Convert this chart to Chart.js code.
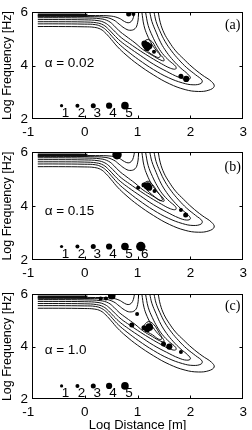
<!DOCTYPE html>
<html>
<head>
<meta charset="utf-8">
<script src="https://cdn.jsdelivr.net/npm/chart.js@4"></script>
<style>
  html, body { margin: 0; padding: 0; background: #fff; overflow: hidden; }
  body { width: 252px; height: 430px; position: relative; }
  canvas { position: absolute; left: 0; }
</style>
</head>
<body>
<canvas id="panelA" width="252" height="143" style="top:0px"></canvas>
<canvas id="panelB" width="252" height="143" style="top:140px"></canvas>
<canvas id="panelC" width="252" height="151" style="top:282px"></canvas>
<script>
const xTicks = [-1, 0, 1, 2, 3];
const yTicks = [2, 4, 6];

// contour lines shared by the three panels: [log distance, log frequency]
const contour1 = [[-0.89,5.46],[-0.5,5.46],[0.0,5.45],[0.18,5.43],[0.3,5.36],[0.4,5.2],[0.5,4.98],[0.62,4.7],[0.78,4.4],[1.0,4.05],[1.3,3.65],[1.6,3.32],[1.9,3.1],[2.15,3.03],[2.35,3.08],[2.45,3.22],[2.4,3.4],[2.22,3.65],[2.03,3.95],[1.87,4.25],[1.72,4.55],[1.6,4.88],[1.5,5.22],[1.43,5.6],[1.39,6.0]];
const contour2 = [[-0.89,5.56],[-0.5,5.56],[0.0,5.55],[0.2,5.53],[0.32,5.45],[0.42,5.3],[0.52,5.08],[0.64,4.82],[0.8,4.55],[1.02,4.22],[1.3,3.85],[1.58,3.55],[1.85,3.35],[2.05,3.28],[2.2,3.33],[2.22,3.45],[2.1,3.65],[1.93,3.92],[1.78,4.22],[1.64,4.55],[1.52,4.9],[1.42,5.3],[1.35,5.65],[1.31,6.0]];
const contour3 = [[-0.89,5.64],[-0.5,5.64],[0.0,5.63],[0.22,5.6],[0.35,5.52],[0.45,5.36],[0.55,5.15],[0.67,4.92],[0.83,4.68],[1.05,4.38],[1.3,4.05],[1.55,3.78],[1.78,3.56],[1.93,3.48],[2.0,3.53],[1.95,3.68],[1.82,3.9],[1.68,4.18],[1.55,4.5],[1.44,4.85],[1.35,5.25],[1.27,5.65],[1.23,6.0]];
const contour4 = [[-0.89,5.72],[-0.5,5.72],[0.0,5.71],[0.25,5.68],[0.38,5.6],[0.48,5.45],[0.58,5.25],[0.7,5.03],[0.85,4.82],[1.05,4.55],[1.25,4.3],[1.45,4.07],[1.62,3.9],[1.72,3.87],[1.72,3.97],[1.6,4.18],[1.47,4.45],[1.37,4.75],[1.28,5.1],[1.2,5.5],[1.15,6.0]];
const contour5 = [[-0.89,5.79],[-0.5,5.79],[0.0,5.78],[0.3,5.75],[0.45,5.66],[0.55,5.5],[0.65,5.3],[0.78,5.1],[0.95,4.85],[1.1,4.6],[1.28,4.38],[1.42,4.22],[1.5,4.18],[1.48,4.3],[1.38,4.5],[1.27,4.8],[1.18,5.15],[1.12,5.5],[1.08,6.0]];
const contour6 = [[-0.89,5.84],[-0.4,5.84],[0.1,5.83],[0.4,5.8],[0.55,5.7],[0.65,5.55],[0.75,5.4],[0.85,5.32],[0.95,5.38],[1.0,5.6],[1.02,6.0]];
const contour7 = [[-0.89,5.88],[0.2,5.87],[0.5,5.85],[0.65,5.77],[0.75,5.65],[0.82,5.6],[0.88,5.65],[0.92,5.8],[0.94,6.0]];
const ridgeBand = [[-0.89,5.89],[-0.3,5.89],[0.05,5.885]];

// innermost closed contour of each panel
const loopA = [[1.1,4.85],[1.18,4.97],[1.27,4.9],[1.35,4.65],[1.43,4.38],[1.4,4.3],[1.3,4.38],[1.18,4.55],[1.1,4.72],[1.1,4.85]];
const loopB = [[1.12,4.85],[1.2,4.92],[1.28,4.8],[1.37,4.55],[1.47,4.25],[1.43,4.2],[1.32,4.35],[1.2,4.55],[1.12,4.72],[1.12,4.85]];
const loopC = [[1.1,4.75],[1.2,4.95],[1.3,4.85],[1.4,4.55],[1.46,4.3],[1.4,4.28],[1.28,4.45],[1.15,4.6],[1.1,4.75]];

// observed sources: position and size class
const dotsAx = [0.83, 0.92, 1.13, 1.17, 1.22, 1.18, 1.31, 1.82, 1.92];
const dotsAy = [5.93, 5.93, 4.82, 4.75, 4.72, 4.66, 4.52, 3.6, 3.5];
const dotsAsize = [3, 2, 4, 5, 4, 4, 2, 3, 4];
const dotsBx = [0.61, 1.01, 1.12, 1.19, 1.22, 1.32, 1.82, 1.91];
const dotsBy = [5.9, 4.68, 4.78, 4.74, 4.68, 4.56, 3.85, 3.67];
const dotsBsize = [6, 2, 3, 5, 4, 2, 2, 3];
const dotsCx = [0.3, 0.4, 0.51, 0.99, 0.89, 1.12, 1.18, 1.22, 1.49, 1.6, 1.82];
const dotsCy = [5.83, 5.83, 5.94, 5.24, 4.82, 4.72, 4.66, 4.74, 4.1, 4.0, 3.79];
const dotsCsize = [2, 2, 5, 2, 3, 3, 4, 5, 3, 4, 2];

// size key along the bottom
const keyX = [-0.44, -0.14, 0.16, 0.46, 0.76, 1.06];
const keyY = 2.5;
const keyLabels = ['1', '2', '3', '4', '5', '6'];

const sizeRadius = [0, 1.6, 2.0, 2.5, 3.1, 3.8, 4.7];
const sansFont = '"Liberation Sans", Arial, sans-serif';

const framePlugin = {
  id: 'frame',
  afterDatasetsDraw(chart, args, opts) {
    const { ctx, chartArea: a, scales: { x, y } } = chart;
    ctx.save();
    ctx.strokeStyle = '#000';
    ctx.lineWidth = 1;
    const l = Math.round(a.left) + 0.5, r = Math.round(a.right) - 0.5;
    const t = Math.round(a.top) + 0.5, b = Math.round(a.bottom) - 0.5;
    ctx.strokeRect(l, t, r - l, b - t);
    ctx.beginPath();
    xTicks.slice(1, -1).forEach(v => {
      const px = Math.round(x.getPixelForValue(v)) + 0.5;
      ctx.moveTo(px, b); ctx.lineTo(px, b - 3);
      ctx.moveTo(px, t); ctx.lineTo(px, t + 3);
    });
    yTicks.slice(1, -1).forEach(v => {
      const py = Math.round(y.getPixelForValue(v)) + 0.5;
      ctx.moveTo(l, py); ctx.lineTo(l + 3, py);
      ctx.moveTo(r, py); ctx.lineTo(r - 3, py);
    });
    ctx.stroke();

    ctx.fillStyle = '#000';
    ctx.textBaseline = 'middle';
    ctx.font = '13.5px ' + sansFont;
    ctx.textAlign = 'left';
    ctx.fillText(opts.alpha, x.getPixelForValue(-0.76), y.getPixelForValue(opts.alphaY));
    ctx.textAlign = 'center';
    for (let i = 0; i < opts.keyCount; i++) {
      ctx.fillText(keyLabels[i], x.getPixelForValue(keyX[i]) + 4, y.getPixelForValue(2.2));
    }
    ctx.font = '14px "Liberation Serif", "Times New Roman", serif';
    ctx.fillText(opts.tag, x.getPixelForValue(2.8), y.getPixelForValue(opts.tagY));
    ctx.restore();
  }
};

function contourSet(list) {
  return list.map(pts => ({
    data: pts.map(p => ({ x: p[0], y: p[1] })),
    showLine: true,
    borderColor: '#111',
    borderWidth: pts === ridgeBand ? 3 : 1,
    pointRadius: 0,
    tension: 0.4,
    fill: false,
    order: 2
  }));
}

function dotSet(xs, ys, sizes) {
  return {
    data: xs.map((v, i) => ({ x: v, y: ys[i] })),
    pointRadius: sizes.map(s => sizeRadius[s]),
    backgroundColor: '#000',
    borderWidth: 0,
    showLine: false,
    order: 0
  };
}

function makePanel(id, p) {
  const keyCount = p.keyCount;
  const datasets = contourSet([contour1, contour2, contour3, contour4, contour5, contour6, contour7, ridgeBand, p.loop]);
  datasets.push(dotSet(p.dx, p.dy, p.ds));
  datasets.push(dotSet(keyX.slice(0, keyCount), keyX.slice(0, keyCount).map(() => keyY), keyLabels.slice(0, keyCount).map(Number)));

  new Chart(document.getElementById(id), {
    type: 'scatter',
    data: { datasets },
    options: {
      responsive: false,
      animation: false,
      layout: { padding: { top: p.padTop, right: 6, left: 0, bottom: 0 } },
      plugins: {
        legend: { display: false },
        tooltip: { enabled: false },
        frame: { alpha: p.alpha, alphaY: p.alphaY, tag: p.tag, tagY: p.tagY, keyCount }
      },
      scales: {
        x: {
          type: 'linear', min: -1, max: 3,
          afterBuildTicks: s => { s.ticks = xTicks.map(v => ({ value: v })); },
          afterFit: s => { s.height = p.xAxisHeight; },
          ticks: {
            color: '#000', padding: 5, maxRotation: 0, autoSkip: false,
            font: { family: sansFont, size: 13.5 },
            callback: v => (v === -1 ? '-1  ' : String(v))
          },
          grid: { display: false, drawTicks: false },
          border: { display: false },
          title: {
            display: p.showXTitle, text: 'Log Distance [m]', color: '#000',
            font: { family: sansFont, size: 13 }, padding: { top: 0, bottom: 0 }
          }
        },
        y: {
          type: 'linear', min: 2, max: 6,
          afterBuildTicks: s => { s.ticks = yTicks.map(v => ({ value: v })); },
          afterFit: s => { s.width = 32; },
          ticks: {
            color: '#000', padding: 4,
            font: { family: sansFont, size: 13.5 },
            callback: v => String(v)
          },
          grid: { display: false, drawTicks: false },
          border: { display: false },
          title: {
            display: true, text: 'Log Frequency [Hz]', color: '#000',
            font: { family: sansFont, size: 12.5 }, padding: { top: 0, bottom: 0 }
          }
        }
      }
    },
    plugins: [framePlugin]
  });
}

makePanel('panelA', { padTop: 10, xAxisHeight: 24, loop: loopA, dx: dotsAx, dy: dotsAy, ds: dotsAsize,
  keyCount: 5, alpha: 'α = 0.02', alphaY: 4.07, tag: '(a)', tagY: 5.52, showXTitle: false });
makePanel('panelB', { padTop: 10, xAxisHeight: 23, loop: loopB, dx: dotsBx, dy: dotsBy, ds: dotsBsize,
  keyCount: 6, alpha: 'α = 0.15', alphaY: 3.82, tag: '(b)', tagY: 5.45, showXTitle: false });
makePanel('panelC', { padTop: 10, xAxisHeight: 34, loop: loopC, dx: dotsCx, dy: dotsCy, ds: dotsCsize,
  keyCount: 5, alpha: 'α = 1.0', alphaY: 3.86, tag: '(c)', tagY: 5.55, showXTitle: true });
</script>
</body>
</html>
